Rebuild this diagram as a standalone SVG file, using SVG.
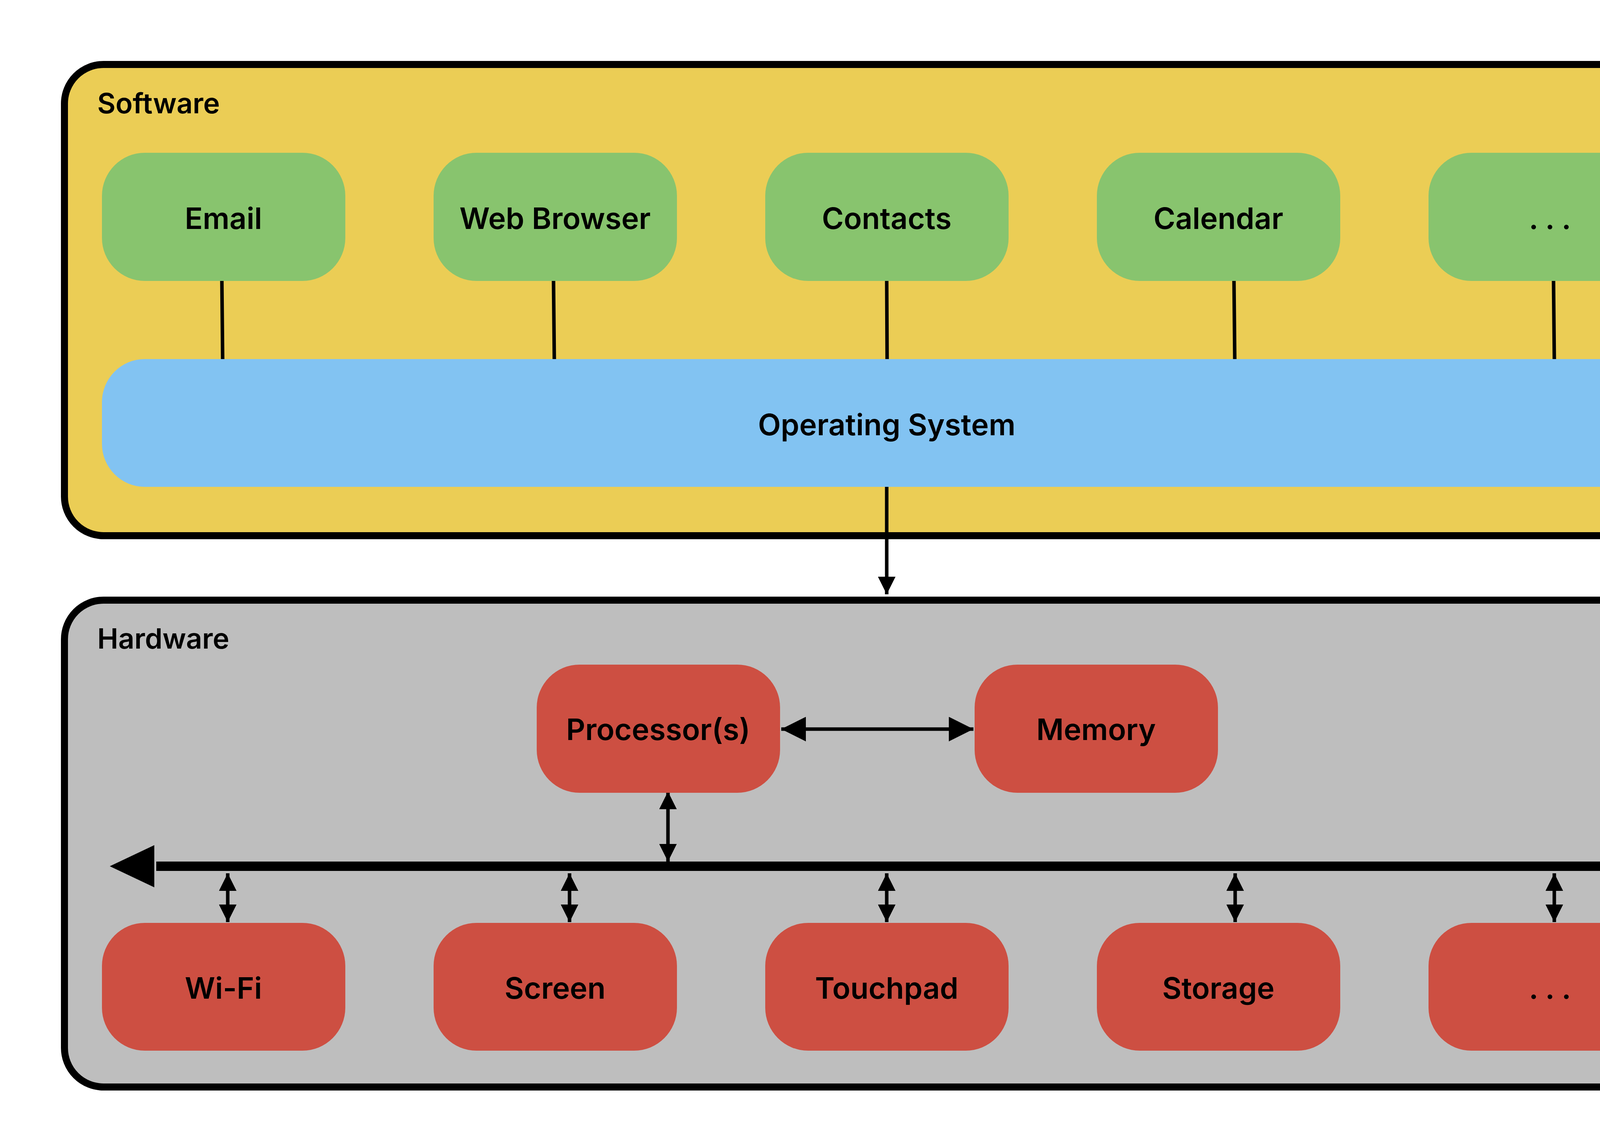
<svg xmlns="http://www.w3.org/2000/svg" width="4521" height="2933" viewBox="0 0 4521 2933">
<style>
text{font-family:"Inter","Liberation Sans",sans-serif;font-weight:600;fill:#000}
.t{font-size:76px;text-anchor:middle;dominant-baseline:central}
.h{font-size:72px}
.g{fill:#88C46E}
.r{fill:#CD4F42}
.c{stroke:#000;stroke-width:9;fill:none}
.s{marker-start:url(#a);marker-end:url(#a)}
</style>
<defs>
<marker id="a" viewBox="0 0 10 10" refX="10" refY="5" markerWidth="5" markerHeight="5" markerUnits="strokeWidth" orient="auto-start-reverse"><path d="M0,0L10,5L0,10z"/></marker>
<marker id="b" viewBox="0 0 10 10" refX="10" refY="5" markerWidth="7.5" markerHeight="7" markerUnits="strokeWidth" orient="auto-start-reverse"><path d="M0,0L10,5L0,10z"/></marker>
</defs>
<g id="software"><rect x="165" y="165" width="4211" height="1206" rx="100" fill="#EBCD55" stroke="#000" stroke-width="18"/><text class="h" x="249" y="290">Software</text></g>
<g id="hardware"><rect x="165" y="1536" width="4211" height="1246" rx="100" fill="#BEBEBE" stroke="#000" stroke-width="18"/><text class="h" x="249" y="1660">Hardware</text></g>
<g id="connectors">
<path class="c" d="M568,719L570,919M1417,719L1419,919M2270,719L2271,919M3159,719L3161,919M3977,719L3979,919"/>
<path class="c" d="M2270,1246L2270,1521" marker-end="url(#a)"/>
<path class="c" d="M2000,1866L2492,1866" marker-start="url(#b)" marker-end="url(#b)"/>
<path class="c s" d="M1710,2026L1710,2205"/>
<path d="M400,2217L4190,2217" stroke="#000" stroke-width="24"/>
<path d="M281,2217L395,2163L395,2271z M4303,2217L4189,2163L4189,2271z"/>
<path class="c s" d="M583,2235L583,2360"/>
<path class="c s" d="M1458,2235L1458,2360"/>
<path class="c s" d="M2270,2235L2270,2360"/>
<path class="c s" d="M3162,2235L3162,2360"/>
<path class="c s" d="M3979,2235L3979,2360"/>
</g>
<g id="email"><rect class="g" x="261" y="391" width="623" height="328" rx="110"/><text class="t" x="572" y="558">Email</text></g>
<g id="browser"><rect class="g" x="1110" y="391" width="623" height="328" rx="110"/><text class="t" x="1421" y="558">Web Browser</text></g>
<g id="contacts"><rect class="g" x="1959" y="391" width="623" height="328" rx="110"/><text class="t" x="2270" y="558">Contacts</text></g>
<g id="calendar"><rect class="g" x="2808" y="391" width="623" height="328" rx="110"/><text class="t" x="3119" y="558">Calendar</text></g>
<g id="more-sw"><rect class="g" x="3657" y="391" width="623" height="328" rx="110"/><text class="t" x="3968" y="558">. . .</text></g>
<g id="os"><rect x="261" y="919" width="4019" height="327" rx="110" fill="#82C3F2"/><text class="t" x="2270" y="1086">Operating System</text></g>
<g id="processor"><rect class="r" x="1374" y="1701" width="623" height="328" rx="110"/><text class="t" x="1685" y="1866">Processor(s)</text></g>
<g id="memory"><rect class="r" x="2495" y="1701" width="623" height="328" rx="110"/><text class="t" x="2806" y="1866">Memory</text></g>
<g id="wifi"><rect class="r" x="261" y="2362" width="623" height="327" rx="110"/><text class="t" x="572" y="2528">Wi-Fi</text></g>
<g id="screen"><rect class="r" x="1110" y="2362" width="623" height="327" rx="110"/><text class="t" x="1421" y="2528">Screen</text></g>
<g id="touchpad"><rect class="r" x="1959" y="2362" width="623" height="327" rx="110"/><text class="t" x="2270" y="2528">Touchpad</text></g>
<g id="storage"><rect class="r" x="2808" y="2362" width="623" height="327" rx="110"/><text class="t" x="3119" y="2528">Storage</text></g>
<g id="more-hw"><rect class="r" x="3657" y="2362" width="623" height="327" rx="110"/><text class="t" x="3968" y="2528">. . .</text></g>
</svg>
